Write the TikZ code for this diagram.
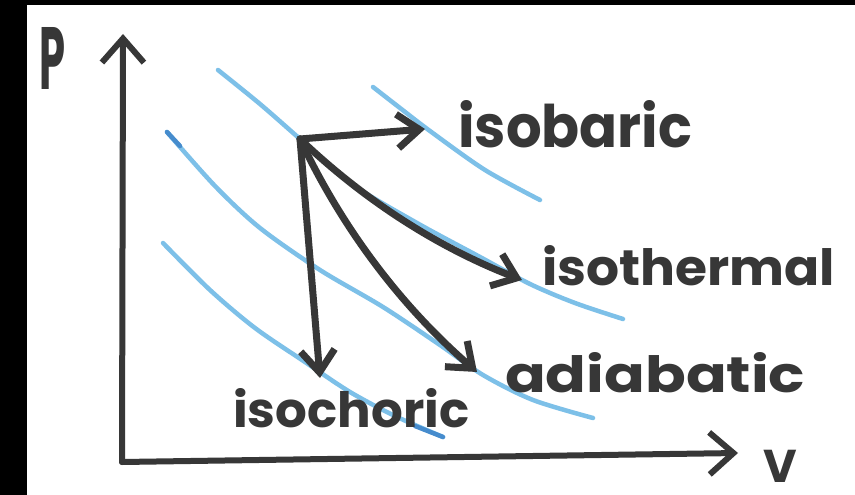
\documentclass[tikz,border=0pt]{standalone}
\usepackage{fontspec}
\setmainfont{Poppins}
\usetikzlibrary{arrows.meta}
\definecolor{ink}{RGB}{55,55,55}
\definecolor{iso}{RGB}{125,192,232}
\definecolor{isodark}{RGB}{70,140,205}
\begin{document}
\begin{tikzpicture}[x=1pt,y=-1pt,
  axis/.style={draw=ink,line width=6pt,line cap=round,line join=round,-{Straight Barb[length=24pt,width=42pt]}},
  proc/.style={draw=ink,line width=7pt,line cap=round,line join=round,-{Straight Barb[length=22pt,width=34pt]}},
  isoline/.style={draw=iso,line width=4.5pt,line cap=round},
  lbl/.style={text=ink,inner sep=0pt,anchor=base west,font=\bfseries}]
\useasboundingbox (0,0) rectangle (855,495);
\fill[white] (0,0) rectangle (855,495);
\fill[black] (0,0) rectangle (27,495);
\fill[black] (0,0) rectangle (855,5);
% isotherms
\draw[isoline] plot[smooth] coordinates {(218,70) (260,104) (300,139) (350,183) (417,223) (480,257) (530,284) (575,303) (623,319)};
\draw[isoline] plot[smooth] coordinates {(373,87) (400,108) (430,131) (485,170) (540,200)};
\draw[isoline] plot[smooth] coordinates {(167,132) (215,186) (260,228) (320,270) (383,307) (440,345) (483,375) (533,400) (593,418)};
\draw[isoline] plot[smooth] coordinates {(163,243) (210,290) (255,328) (305,362) (350,392) (395,416) (443,437)};
\draw[draw=isodark,line width=4.5pt,line cap=round] (167,132) -- (180,146);
\draw[draw=isodark,line width=4.5pt,line cap=round] (415,426) -- (443,437);
% axes
\coordinate (origin) at (122,462);
\coordinate (ytip) at (123,34);
\coordinate (xtip) at (738,453);
\draw[axis] (origin) -- (ytip);
\draw[axis] (origin) -- (xtip);
% processes
\coordinate (c) at (300,139);
\coordinate (tb) at (425,129);
\coordinate (tt) at (522,280);
\coordinate (ta) at (477,372);
\coordinate (tc) at (320,378);
\draw[proc] (c) -- (tb);
\draw[proc] (c) .. controls (365,201) and (439,248) .. (tt);
\draw[proc] (c) .. controls (343,230) and (402,307) .. (ta);
\draw[proc] (c) -- (tc);
% labels
\node[lbl] (P) at (39,90) {\resizebox{26pt}{62pt}{P}};
\node[lbl,font=\bfseries\fontsize{46}{46}\selectfont] (V) at (763,482) {V};
\node[lbl] (isobaric) at (458,147) {\resizebox{234pt}{47pt}{isobaric}};
\node[lbl] (isothermal) at (542,285) {\resizebox{293pt}{40pt}{isothermal}};
\node[lbl] (adiabatic) at (505,392) {\resizebox{300pt}{40pt}{adiabatic}};
\node[lbl] (isochoric) at (233,427) {\resizebox{236pt}{39pt}{isochoric}};
\end{tikzpicture}
\end{document}
